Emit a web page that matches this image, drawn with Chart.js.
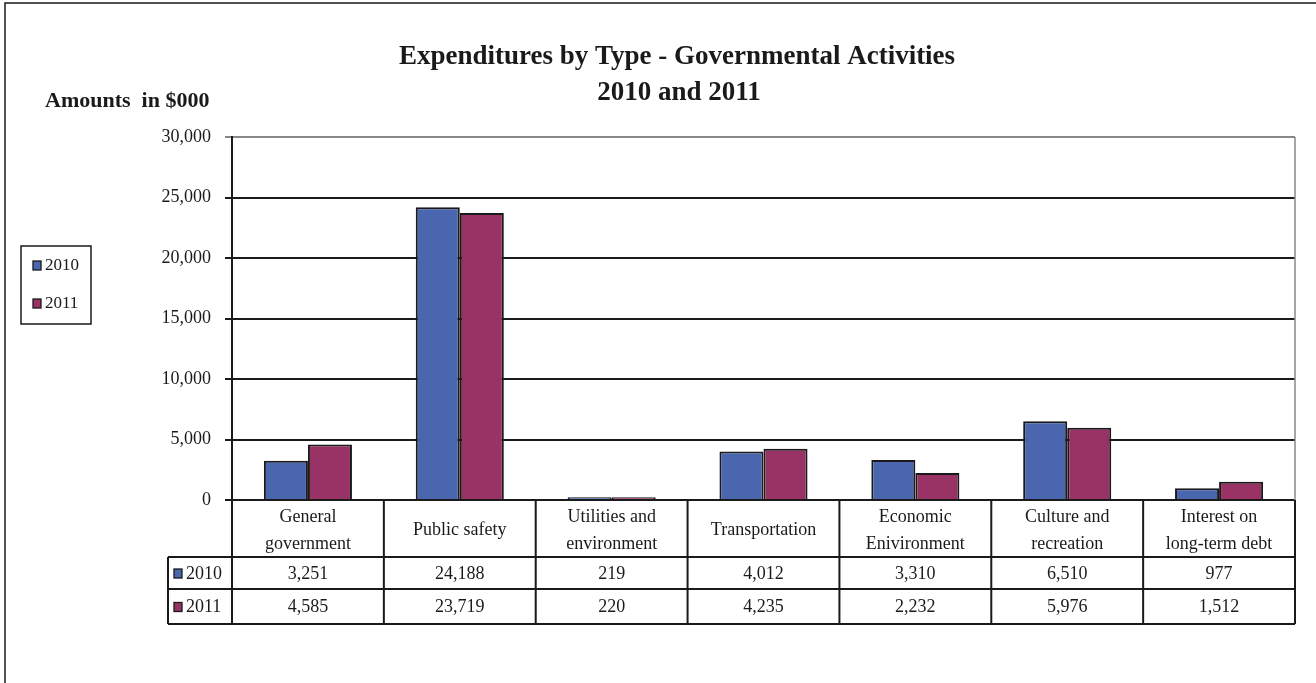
<!DOCTYPE html>
<html>
<head>
<meta charset="utf-8">
<title>Expenditures by Type</title>
<script src="https://cdn.jsdelivr.net/npm/chart.js@4.4.1/dist/chart.umd.min.js"></script>
<style>
  html, body { margin: 0; padding: 0; background: #fff; }
  canvas { display: block; }
</style>
</head>
<body>
<canvas id="expenditures-chart" width="1316" height="683"></canvas>
<script>
const categories = [
    ['General', 'government'],
    ['Public safety'],
    ['Utilities and', 'environment'],
    ['Transportation'],
    ['Economic', 'Enivironment'],
    ['Culture and', 'recreation'],
    ['Interest on', 'long-term debt']
]
const seriesNames = ['2010', '2011']
const values2010 = [3251, 24188, 219, 4012, 3310, 6510, 977]
const values2011 = [4585, 23719, 220, 4235, 2232, 5976, 1512]
const yTicks = [0, 5000, 10000, 15000, 20000, 25000, 30000]
const seriesColors = ['#4a66ae', '#993366']

const serif = '"Liberation Serif", "Times New Roman", serif'
const ink = '#1a1a1a'
const fmt = n => n.toLocaleString('en-US')

// data table, legend box and titles drawn around the chart area
const tablePlugin = {
    id: 'tablePlugin',
    beforeDraw(chart) {
        const ctx = chart.ctx
        ctx.save()
        ctx.fillStyle = '#fff'
        ctx.fillRect(0, 0, chart.width, chart.height)
        ctx.strokeStyle = ink
        ctx.lineWidth = 1.5
        ctx.strokeRect(5, 3, 1400, 800)
        ctx.restore()
    },
    afterDraw(chart) {
        const ctx = chart.ctx
        const {left, right, top, bottom} = chart.chartArea
        const colW = (right - left) / categories.length
        const headBottom = bottom + 57
        const row1Bottom = headBottom + 32
        const row2Bottom = row1Bottom + 35
        const rowLeft = 168
        const rows = [values2010, values2011]

        ctx.save()
        // plot right border (grey)
        ctx.strokeStyle = '#888'
        ctx.lineWidth = 1.5
        ctx.beginPath()
        ctx.moveTo(right, top)
        ctx.lineTo(right, bottom)
        ctx.stroke()

        // table lines
        ctx.strokeStyle = ink
        ctx.lineWidth = 2
        ctx.beginPath()
        ;[headBottom, row1Bottom, row2Bottom].forEach(y => {
            ctx.moveTo(rowLeft, y)
            ctx.lineTo(right, y)
        })
        for (let i = 0; i <= categories.length; i++) {
            const x = left + i * colW
            ctx.moveTo(x, bottom)
            ctx.lineTo(x, row2Bottom)
        }
        ctx.moveTo(rowLeft, headBottom)
        ctx.lineTo(rowLeft, row2Bottom)
        ctx.stroke()

        // category labels
        ctx.fillStyle = ink
        ctx.font = '18px ' + serif
        ctx.textAlign = 'center'
        ctx.textBaseline = 'middle'
        categories.forEach((lines, i) => {
            const cx = chart.scales.x.getPixelForValue(i)
            if (lines.length === 1) {
                ctx.fillText(lines[0], cx, bottom + 30)
            } else {
                ctx.fillText(lines[0], cx, bottom + 17)
                ctx.fillText(lines[1], cx, bottom + 44)
            }
        })

        // values
        const rowMids = [(headBottom + row1Bottom) / 2, (row1Bottom + row2Bottom) / 2]
        rows.forEach((vals, r) => {
            vals.forEach((v, i) => {
                ctx.fillText(fmt(v), chart.scales.x.getPixelForValue(i), rowMids[r] + 1)
            })
        })

        // row keys
        ctx.textAlign = 'left'
        seriesNames.forEach((name, r) => {
            drawKey(ctx, 174, rowMids[r] - 4, seriesColors[r])
            ctx.fillStyle = ink
            ctx.fillText(name, 186, rowMids[r] + 1)
        })

        // legend box
        ctx.lineWidth = 1.5
        ctx.strokeRect(21, 246, 70, 78)
        ctx.font = '17px ' + serif
        seriesNames.forEach((name, r) => {
            const cy = 265 + r * 38
            drawKey(ctx, 33, cy - 4, seriesColors[r])
            ctx.fillStyle = ink
            ctx.fillText(name, 45, cy + 1)
        })

        // titles
        ctx.textAlign = 'center'
        ctx.font = 'bold 27px ' + serif
        ctx.fillText('Expenditures by Type - Governmental Activities', 677, 57)
        ctx.fillText('2010 and 2011', 679, 93)
        ctx.textAlign = 'left'
        ctx.font = 'bold 22px ' + serif
        ctx.fillText('Amounts  in $000', 45, 101)
        ctx.restore()
    }
}

function drawKey(ctx, x, y, color) {
    ctx.fillStyle = color
    ctx.fillRect(x, y, 8, 9)
    ctx.strokeStyle = ink
    ctx.lineWidth = 1.3
    ctx.strokeRect(x, y, 8, 9)
}

const chart = new Chart(document.getElementById('expenditures-chart'), {
    type: 'bar',
    data: {
        labels: categories.map(c => c.join(' ')),
        datasets: [{
            label: seriesNames[0],
            data: values2010,
            backgroundColor: seriesColors[0],
            borderColor: ink,
            borderWidth: 2
        }, {
            label: seriesNames[1],
            data: values2011,
            backgroundColor: seriesColors[1],
            borderColor: ink,
            borderWidth: 2
        }]
    },
    options: {
        responsive: false,
        animation: false,
        layout: {
            padding: {left: 0, top: 137, right: 21, bottom: 183}
        },
        datasets: {
            bar: {
                barPercentage: 1,
                categoryPercentage: 0.58
            }
        },
        plugins: {
            legend: {display: false},
            title: {display: false},
            tooltip: {enabled: false}
        },
        scales: {
            x: {
                display: false
            },
            y: {
                min: 0,
                max: 30000,
                afterFit(scale) {
                    scale.width = 232
                },
                afterBuildTicks(scale) {
                    scale.ticks = yTicks.map(v => ({value: v}))
                },
                border: {
                    color: ink,
                    width: 2
                },
                grid: {
                    color: ctx => ctx.tick && ctx.tick.value === 30000 ? '#888' : ink,
                    lineWidth: 2,
                    tickLength: 7
                },
                ticks: {
                    color: ink,
                    padding: 14,
                    font: {family: serif, size: 18},
                    callback: v => fmt(v)
                }
            }
        }
    },
    plugins: [tablePlugin]
})
</script>
</body>
</html>
